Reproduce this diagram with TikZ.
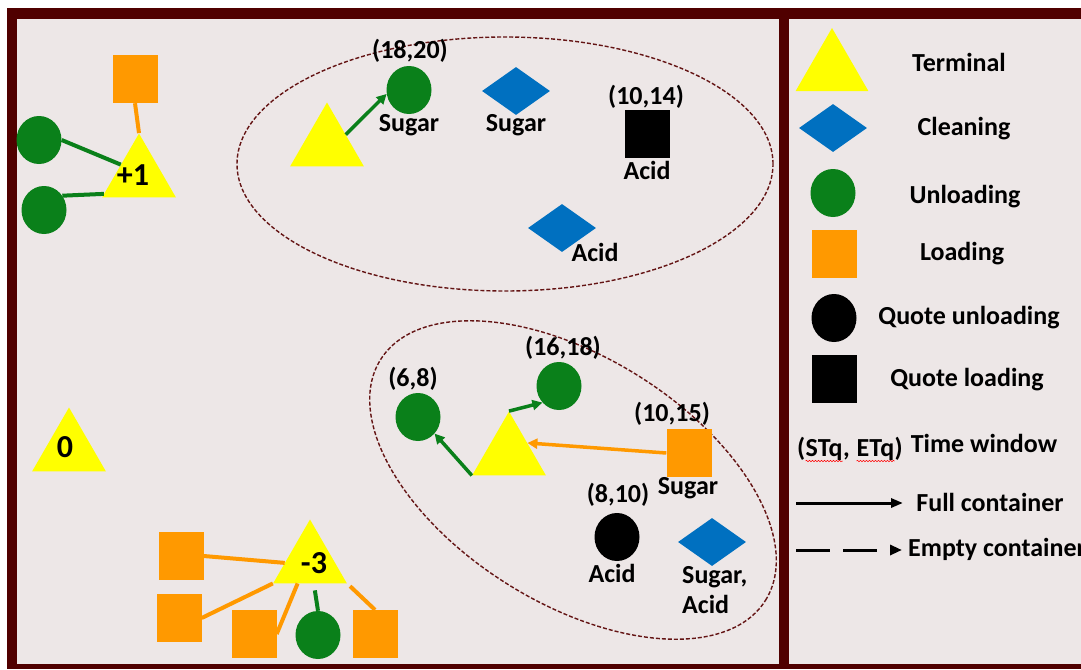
\documentclass[tikz,border=0pt]{standalone}
\usepackage{fontspec}
\setmainfont{Carlito}
\usetikzlibrary{shapes.geometric,arrows.meta,decorations.pathmorphing}
\definecolor{frame}{RGB}{80,0,0}
\definecolor{panel}{RGB}{237,231,231}
\definecolor{term}{RGB}{255,255,0}
\definecolor{unload}{RGB}{10,128,26}
\definecolor{load}{RGB}{255,153,0}
\definecolor{clean}{RGB}{0,112,192}
\definecolor{cluster}{RGB}{100,20,20}
\begin{document}
\begin{tikzpicture}[x=1pt,y=-1pt,
  terminal/.style={regular polygon,regular polygon sides=3,fill=term,inner sep=0pt,
    minimum size=85pt},
  lterminal/.style={terminal,minimum size=84pt},
  tlbl/.style={font=\bfseries\fontsize{32}{32}\selectfont,inner sep=0pt},
  unloading/.style={ellipse,fill=unload,inner sep=0pt,minimum width=45pt,minimum height=48pt},
  qunloading/.style={unloading,fill=black},
  loading/.style={rectangle,fill=load,inner sep=0pt,minimum width=45pt,minimum height=48pt},
  qloading/.style={loading,fill=black},
  cleaning/.style={diamond,fill=clean,inner sep=0pt,minimum width=68pt,minimum height=48pt},
  txt/.style={font=\bfseries\fontsize{26}{30}\selectfont,inner sep=0pt,
    text height=0.7em,text depth=0.2em},
  lbl/.style={txt,yshift=-6pt},
  link/.style={line width=4pt},
  flow/.style={line width=3.5pt,-{Triangle[length=10pt,width=10pt]}},
  cl/.style={draw=cluster,line width=1.4pt,dash pattern=on 4pt off 2pt},
  squiggle/.style={red,line width=0.5pt,decorate,
    decoration={snake,amplitude=0.7pt,segment length=3pt}}]
\useasboundingbox (0,0) rectangle (1081,669);
% frame and panels
\fill[white] (0,0) rectangle (1081,669);
\fill[frame] (7,8) rectangle (1081,669);
\fill[panel] (17,19) rectangle (779,664);
\fill[panel] (789,19) rectangle (1081,664);

% ---- terminal +1 ----
\node[terminal] (tp) at (139,176) {};
\node[tlbl] (tpt) at (133,175) {+1};
\node[loading] (tpL) at (135,79) {};
\node[unloading] (tpU1) at (39,140) {};
\node[unloading] (tpU2) at (44,210) {};
\draw[link,load] (tpL.south) -- (tp.corner 1);
\draw[link,unload] (tpU1.east) -- (tp.148);
\draw[link,unload] (tpU2.38) -- (tp.207);

% ---- terminal 0 ----
\node[terminal] (tz) at (69,450) {};
\node[tlbl] (tzt) at (65,447) {0};

% ---- terminal -3 ----
\node[terminal] (tm) at (310,562) {};
\node[tlbl] (tmt) at (314,563) {-3};
\node[loading] (tmL1) at (181,556) {};
\node[loading] (tmL2) at (179,618) {};
\node[loading] (tmL3) at (254,634) {};
\node[loading] (tmL4) at (375,634) {};
\node[unloading] (tmU) at (318,635) {};
\draw[link,load] (tmL1.east) -- (tm.182);
\draw[link,load] (tmL2.east) -- (tm.corner 2);
\draw[link,load] (tmL3.east) -- (tm.240);
\draw[link,unload,shorten >=7pt] (tmU.north) -- (tm.280);
\draw[link,load,shorten >=4pt] (tmL4.north) -- (tm.corner 3);

% ---- upper cluster ----
\draw[cl] (505,164) ellipse [x radius=268pt,y radius=127pt];
\node[terminal] (ta) at (327,145) {};
\node[unloading] (taU) at (409,90) {};
\node[lbl] (taUt) at (410,50) {(18,20)};
\node[lbl] (taUp) at (409,123) {Sugar};
\node[cleaning] (taC1) at (516,91) {};
\node[lbl] (taC1p) at (516,123) {Sugar};
\node[qloading] (taQ) at (647,134) {};
\node[lbl] (taQt) at (646,96) {(10,14)};
\node[lbl] (taQp) at (647,171) {Acid};
\node[cleaning] (taC2) at (562,228) {};
\node[lbl] (taC2p) at (595,253) {Acid};
\draw[flow,unload] (ta.29) -- (taU.190);

% ---- lower cluster ----
\draw[cl,rotate around={-32:(573,480)}] (573,480) ellipse [x radius=227pt,y radius=123pt];
\node[terminal] (tb) at (509,454) {};
\node[unloading] (tbU1) at (418,417) {};
\node[lbl] (tbU1t) at (413,378) {(6,8)};
\node[unloading] (tbU2) at (559,386) {};
\node[lbl] (tbU2t) at (563,347) {(16,18)};
\node[loading] (tbL) at (689,453) {};
\node[lbl] (tbLt) at (672,413) {(10,15)};
\node[lbl] (tbLp) at (688,486) {Sugar};
\node[qunloading] (tbQ) at (617,537) {};
\node[lbl] (tbQt) at (618,494) {(8,10)};
\node[lbl] (tbQp) at (612,574) {Acid};
\node[cleaning] (tbC) at (712,542) {};
\node[lbl,align=left,anchor=north west,text height=,text depth=] (tbCp) at (682,560) {Sugar,\\Acid};
\draw[flow,unload] (tb.corner 2) -- (tbU1.-45);
\draw[flow,unload] (tb.corner 1) -- (tbU2.225);
\draw[flow,load] (tbL.west) -- (tb.31);

% ---- legend ----
\node[lterminal] (kT) at (832,70) {};
\node[lbl] (kTt) at (959,63) {Terminal};
\node[cleaning] (kC) at (833,128) {};
\node[lbl] (kCt) at (964,127) {Cleaning};
\node[unloading] (kU) at (833,193) {};
\node[lbl] (kUt) at (965,195) {Unloading};
\node[loading] (kL) at (834,254) {};
\node[lbl] (kLt) at (962,252) {Loading};
\node[qunloading] (kQU) at (834,318) {};
\node[lbl] (kQUt) at (969,316) {Quote unloading};
\node[qloading] (kQL) at (834,379) {};
\node[lbl] (kQLt) at (967,378) {Quote loading};
% time window notation, pieced together so the two names can be underlined
\node[txt,anchor=base west] (kWa) at (797,456) {(};
\node[txt,anchor=base west] (kWb) at (kWa.base east) {STq};
\node[txt,anchor=base west] (kWc) at (kWb.base east) {\hbox{,\kern0.25em}};
\node[txt,anchor=base west] (kWd) at (kWc.base east) {ETq};
\node[txt,anchor=base west] (kWe) at (kWd.base east) {)};
\draw[squiggle] ([yshift=-5pt]kWb.base west) -- ([yshift=-5pt]kWb.base east);
\draw[squiggle] ([yshift=-5pt]kWd.base west) -- ([yshift=-5pt]kWd.base east);
\node[lbl] (kWt) at (984,444) {Time window};
\coordinate (kF1) at (796,503);
\coordinate (kF2) at (903,503);
\draw[line width=3pt,-{Triangle[length=12pt,width=9pt]}] (kF1) -- (kF2);
\node[lbl] (kFt) at (990,503) {Full container};
\coordinate (kE1) at (796,550);
\coordinate (kE2) at (902,550);
\draw[line width=3pt,dash pattern=on 34pt off 13pt,-{Triangle[length=12pt,width=10pt]}] (kE1) -- (kE2);
\node[lbl,anchor=west] (kEt) at (908,548) {Empty container};
\end{tikzpicture}
\end{document}
